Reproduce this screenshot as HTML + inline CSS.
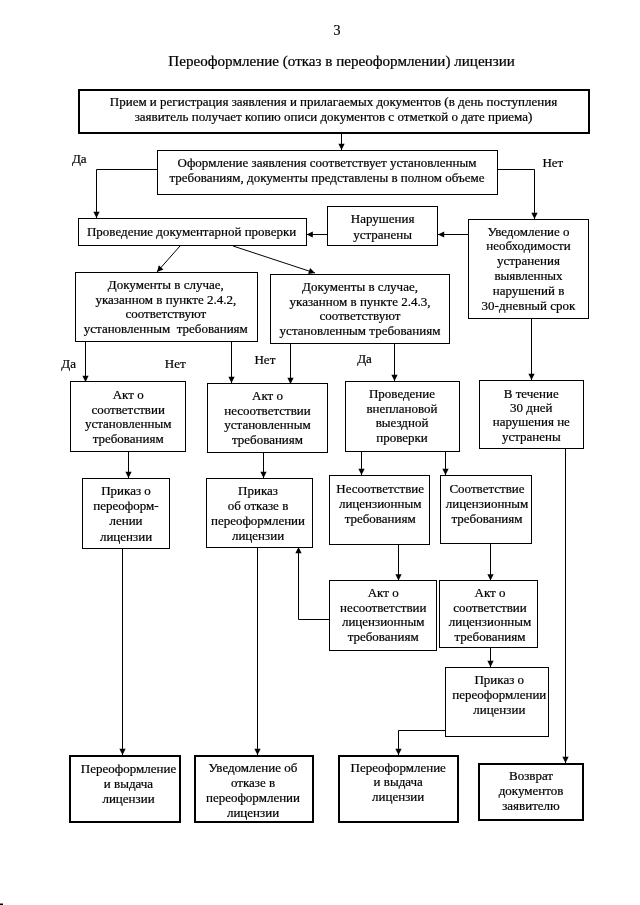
<!DOCTYPE html>
<html><head><meta charset="utf-8"><style>
html,body{margin:0;padding:0;background:#fff;width:640px;height:905px;overflow:hidden}
svg{display:block;will-change:transform}
text{font-family:"Liberation Serif",serif;fill:#000;stroke:#000;stroke-width:0.22px;text-anchor:middle}
</style></head><body>
<svg width="640" height="905" viewBox="0 0 640 905">
<rect x="79.00" y="90.00" width="510.00" height="43.00" fill="none" stroke="#000" stroke-width="2"/>
<rect x="157.50" y="150.50" width="340.00" height="44.00" fill="none" stroke="#000" stroke-width="1"/>
<rect x="78.50" y="218.50" width="228.00" height="27.00" fill="none" stroke="#000" stroke-width="1"/>
<rect x="327.50" y="206.50" width="110.00" height="39.00" fill="none" stroke="#000" stroke-width="1"/>
<rect x="468.50" y="219.50" width="120.00" height="99.00" fill="none" stroke="#000" stroke-width="1"/>
<rect x="75.50" y="272.50" width="182.00" height="69.00" fill="none" stroke="#000" stroke-width="1"/>
<rect x="270.50" y="274.50" width="179.00" height="69.00" fill="none" stroke="#000" stroke-width="1"/>
<rect x="70.50" y="381.50" width="115.00" height="70.00" fill="none" stroke="#000" stroke-width="1"/>
<rect x="207.50" y="383.50" width="120.00" height="69.00" fill="none" stroke="#000" stroke-width="1"/>
<rect x="345.50" y="381.50" width="114.00" height="70.00" fill="none" stroke="#000" stroke-width="1"/>
<rect x="479.50" y="380.50" width="104.00" height="68.00" fill="none" stroke="#000" stroke-width="1"/>
<rect x="82.50" y="478.50" width="87.00" height="70.00" fill="none" stroke="#000" stroke-width="1"/>
<rect x="206.50" y="478.50" width="106.00" height="69.00" fill="none" stroke="#000" stroke-width="1"/>
<rect x="329.50" y="475.50" width="100.00" height="69.00" fill="none" stroke="#000" stroke-width="1"/>
<rect x="440.50" y="475.50" width="91.00" height="68.00" fill="none" stroke="#000" stroke-width="1"/>
<rect x="329.50" y="580.50" width="107.00" height="70.00" fill="none" stroke="#000" stroke-width="1"/>
<rect x="439.50" y="580.50" width="98.00" height="67.00" fill="none" stroke="#000" stroke-width="1"/>
<rect x="445.50" y="667.50" width="103.00" height="69.00" fill="none" stroke="#000" stroke-width="1"/>
<rect x="70.00" y="756.00" width="110.00" height="66.00" fill="none" stroke="#000" stroke-width="2"/>
<rect x="195.00" y="756.00" width="118.00" height="66.00" fill="none" stroke="#000" stroke-width="2"/>
<rect x="339.00" y="756.00" width="119.00" height="66.00" fill="none" stroke="#000" stroke-width="2"/>
<rect x="479.00" y="764.00" width="104.00" height="56.00" fill="none" stroke="#000" stroke-width="2"/>
<polyline points="341.50,134.00 341.50,150.00" fill="none" stroke="#000" stroke-width="1"/>
<polyline points="157.00,169.50 96.50,169.50 96.50,218.00" fill="none" stroke="#000" stroke-width="1"/>
<polyline points="498.00,169.50 534.50,169.50 534.50,219.00" fill="none" stroke="#000" stroke-width="1"/>
<polyline points="468.00,234.50 438.00,234.50" fill="none" stroke="#000" stroke-width="1"/>
<polyline points="327.00,234.50 306.60,234.50" fill="none" stroke="#000" stroke-width="1"/>
<polyline points="180.00,246.00 157.00,272.00" fill="none" stroke="#000" stroke-width="1"/>
<polyline points="233.00,246.00 315.00,273.00" fill="none" stroke="#000" stroke-width="1"/>
<polyline points="85.50,342.00 85.50,382.00" fill="none" stroke="#000" stroke-width="1"/>
<polyline points="231.50,342.00 231.50,383.00" fill="none" stroke="#000" stroke-width="1"/>
<polyline points="290.50,343.50 290.50,384.00" fill="none" stroke="#000" stroke-width="1"/>
<polyline points="394.50,343.50 394.50,381.00" fill="none" stroke="#000" stroke-width="1"/>
<polyline points="531.50,319.00 531.50,380.00" fill="none" stroke="#000" stroke-width="1"/>
<polyline points="128.50,451.00 128.50,478.00" fill="none" stroke="#000" stroke-width="1"/>
<polyline points="263.50,453.00 263.50,478.00" fill="none" stroke="#000" stroke-width="1"/>
<polyline points="361.50,452.00 361.50,475.00" fill="none" stroke="#000" stroke-width="1"/>
<polyline points="445.50,452.00 445.50,475.00" fill="none" stroke="#000" stroke-width="1"/>
<polyline points="398.50,545.00 398.50,580.50" fill="none" stroke="#000" stroke-width="1"/>
<polyline points="490.50,544.00 490.50,580.50" fill="none" stroke="#000" stroke-width="1"/>
<polyline points="329.00,619.50 298.50,619.50 298.50,547.00" fill="none" stroke="#000" stroke-width="1"/>
<polyline points="490.50,647.50 490.50,667.00" fill="none" stroke="#000" stroke-width="1"/>
<polyline points="445.00,730.50 398.50,730.50 398.50,755.00" fill="none" stroke="#000" stroke-width="1"/>
<polyline points="122.50,549.00 122.50,755.00" fill="none" stroke="#000" stroke-width="1"/>
<polyline points="257.50,548.00 257.50,755.00" fill="none" stroke="#000" stroke-width="1"/>
<polyline points="565.50,449.00 565.50,763.00" fill="none" stroke="#000" stroke-width="1"/>
<polygon points="341.50,150.00 338.40,143.80 344.60,143.80" fill="#000"/>
<polygon points="96.50,218.00 93.40,211.80 99.60,211.80" fill="#000"/>
<polygon points="534.50,219.00 531.40,212.80 537.60,212.80" fill="#000"/>
<polygon points="438.00,234.50 444.20,231.40 444.20,237.60" fill="#000"/>
<polygon points="306.60,234.50 312.80,231.40 312.80,237.60" fill="#000"/>
<polygon points="157.00,272.00 158.79,265.30 163.43,269.41" fill="#000"/>
<polygon points="315.00,273.00 308.14,274.01 310.08,268.12" fill="#000"/>
<polygon points="85.50,382.00 82.40,375.80 88.60,375.80" fill="#000"/>
<polygon points="231.50,383.00 228.40,376.80 234.60,376.80" fill="#000"/>
<polygon points="290.50,384.00 287.40,377.80 293.60,377.80" fill="#000"/>
<polygon points="394.50,381.00 391.40,374.80 397.60,374.80" fill="#000"/>
<polygon points="531.50,380.00 528.40,373.80 534.60,373.80" fill="#000"/>
<polygon points="128.50,478.00 125.40,471.80 131.60,471.80" fill="#000"/>
<polygon points="263.50,478.00 260.40,471.80 266.60,471.80" fill="#000"/>
<polygon points="361.50,475.00 358.40,468.80 364.60,468.80" fill="#000"/>
<polygon points="445.50,475.00 442.40,468.80 448.60,468.80" fill="#000"/>
<polygon points="398.50,580.50 395.40,574.30 401.60,574.30" fill="#000"/>
<polygon points="490.50,580.50 487.40,574.30 493.60,574.30" fill="#000"/>
<polygon points="298.50,547.00 301.60,553.20 295.40,553.20" fill="#000"/>
<polygon points="490.50,667.00 487.40,660.80 493.60,660.80" fill="#000"/>
<polygon points="398.50,755.00 395.40,748.80 401.60,748.80" fill="#000"/>
<polygon points="122.50,755.00 119.40,748.80 125.60,748.80" fill="#000"/>
<polygon points="257.50,755.00 254.40,748.80 260.60,748.80" fill="#000"/>
<polygon points="565.50,763.00 562.40,756.80 568.60,756.80" fill="#000"/>
<text x="337.00" y="34.50" font-size="14">3</text>
<text x="341.60" y="65.80" font-size="15.1">Переоформление (отказ в переоформлении) лицензии</text>
<text x="333.50" y="106.00" font-size="13">Прием и регистрация заявления и прилагаемых документов (в день поступления</text>
<text x="333.50" y="121.00" font-size="13">заявитель получает копию описи документов с отметкой о дате приема)</text>
<text x="327.00" y="167.00" font-size="13">Оформление заявления соответствует установленным</text>
<text x="327.00" y="182.00" font-size="13">требованиям, документы представлены в полном объеме</text>
<text x="79.30" y="162.60" font-size="13">Да</text>
<text x="552.80" y="166.90" font-size="13">Нет</text>
<text x="191.60" y="235.60" font-size="13">Проведение документарной проверки</text>
<text x="382.60" y="223.20" font-size="13">Нарушения</text>
<text x="382.60" y="239.00" font-size="13">устранены</text>
<text x="528.50" y="235.50" font-size="13">Уведомление о</text>
<text x="528.50" y="250.30" font-size="13">необходимости</text>
<text x="528.50" y="265.10" font-size="13">устранения</text>
<text x="528.50" y="279.90" font-size="13">выявленных</text>
<text x="528.50" y="294.70" font-size="13">нарушений в</text>
<text x="528.50" y="309.50" font-size="13">30-дневный срок</text>
<text x="165.80" y="289.00" font-size="13">Документы в случае,</text>
<text x="165.80" y="303.60" font-size="13">указанном в пункте 2.4.2,</text>
<text x="165.80" y="318.20" font-size="13">соответствуют</text>
<text x="165.80" y="332.80" font-size="13">установленным&#160;&#160;требованиям</text>
<text x="360.00" y="290.80" font-size="13">Документы в случае,</text>
<text x="360.00" y="305.50" font-size="13">указанном в пункте 2.4.3,</text>
<text x="360.00" y="320.20" font-size="13">соответствуют</text>
<text x="360.00" y="334.90" font-size="13">установленным требованиям</text>
<text x="68.60" y="368.30" font-size="13">Да</text>
<text x="175.20" y="367.60" font-size="13">Нет</text>
<text x="264.90" y="363.80" font-size="13">Нет</text>
<text x="364.50" y="363.00" font-size="13">Да</text>
<text x="128.20" y="398.80" font-size="13">Акт о</text>
<text x="128.20" y="413.50" font-size="13">соответствии</text>
<text x="128.20" y="428.20" font-size="13">установленным</text>
<text x="128.20" y="442.90" font-size="13">требованиям</text>
<text x="267.50" y="399.70" font-size="13">Акт о</text>
<text x="267.50" y="414.50" font-size="13">несоответствии</text>
<text x="267.50" y="429.30" font-size="13">установленным</text>
<text x="267.50" y="444.10" font-size="13">требованиям</text>
<text x="402.00" y="397.90" font-size="13">Проведение</text>
<text x="402.00" y="412.50" font-size="13">внеплановой</text>
<text x="402.00" y="427.10" font-size="13">выездной</text>
<text x="402.00" y="441.70" font-size="13">проверки</text>
<text x="531.30" y="397.60" font-size="13">В течение</text>
<text x="531.30" y="412.00" font-size="13">30 дней</text>
<text x="531.30" y="426.40" font-size="13">нарушения не</text>
<text x="531.30" y="440.80" font-size="13">устранены</text>
<text x="126.00" y="494.90" font-size="13">Приказ о</text>
<text x="126.00" y="510.10" font-size="13">переоформ-</text>
<text x="126.00" y="525.30" font-size="13">лении</text>
<text x="126.00" y="540.50" font-size="13">лицензии</text>
<text x="258.00" y="494.70" font-size="13">Приказ</text>
<text x="258.00" y="509.70" font-size="13">об отказе в</text>
<text x="258.00" y="524.70" font-size="13">переоформлении</text>
<text x="258.00" y="539.70" font-size="13">лицензии</text>
<text x="380.20" y="493.20" font-size="13">Несоответствие</text>
<text x="380.20" y="508.00" font-size="13">лицензионным</text>
<text x="380.20" y="522.80" font-size="13">требованиям</text>
<text x="487.00" y="493.20" font-size="13">Соответствие</text>
<text x="487.00" y="508.00" font-size="13">лицензионным</text>
<text x="487.00" y="522.80" font-size="13">требованиям</text>
<text x="383.20" y="596.60" font-size="13">Акт о</text>
<text x="383.20" y="611.50" font-size="13">несоответствии</text>
<text x="383.20" y="626.40" font-size="13">лицензионным</text>
<text x="383.20" y="641.30" font-size="13">требованиям</text>
<text x="490.00" y="596.60" font-size="13">Акт о</text>
<text x="490.00" y="611.50" font-size="13">соответствии</text>
<text x="490.00" y="626.40" font-size="13">лицензионным</text>
<text x="490.00" y="641.30" font-size="13">требованиям</text>
<text x="499.30" y="683.80" font-size="13">Приказ о</text>
<text x="499.30" y="698.80" font-size="13">переоформлении</text>
<text x="499.30" y="713.80" font-size="13">лицензии</text>
<text x="128.50" y="772.60" font-size="13">Переоформление</text>
<text x="128.50" y="787.80" font-size="13">и выдача</text>
<text x="128.50" y="803.00" font-size="13">лицензии</text>
<text x="253.00" y="772.30" font-size="13">Уведомление об</text>
<text x="253.00" y="787.20" font-size="13">отказе в</text>
<text x="253.00" y="802.10" font-size="13">переоформлении</text>
<text x="253.00" y="817.00" font-size="13">лицензии</text>
<text x="398.20" y="771.50" font-size="13">Переоформление</text>
<text x="398.20" y="786.45" font-size="13">и выдача</text>
<text x="398.20" y="801.40" font-size="13">лицензии</text>
<text x="531.00" y="780.00" font-size="13">Возврат</text>
<text x="531.00" y="794.95" font-size="13">документов</text>
<text x="531.00" y="809.90" font-size="13">заявителю</text>
<rect x="0" y="903.5" width="3" height="1.5" fill="#000"/>
</svg>
</body></html>
